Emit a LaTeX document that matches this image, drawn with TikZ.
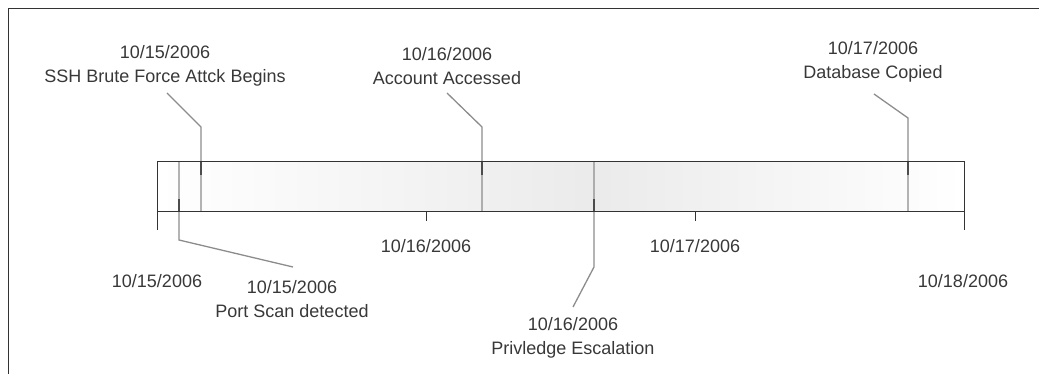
\documentclass[tikz,border=0pt]{standalone}
\usepackage{fontspec}
\setmainfont{Liberation Sans}
\begin{document}
\begin{tikzpicture}[x=1pt,y=-1pt,
  lbl/.style={font=\fontsize{18}{24}\selectfont, text=black!78, align=center, inner sep=0pt},
  leader/.style={draw=black!45, line width=1.3pt},
  darktick/.style={draw=black!70, line width=1.3pt},
  edgeline/.style={draw=black!80, line width=1pt}]
\useasboundingbox (0,0) rectangle (1039,374);
% frame
\coordinate (fbl) at (8,374);
\coordinate (ftl) at (8,9);
\coordinate (ftr) at (1039,9);
\draw[edgeline] (fbl) -- (ftl) -- (ftr);
% bar shading
\shade[left color=white, right color=black!8] (157,162) rectangle (594,212);
\shade[left color=black!8, right color=white] (594,162) rectangle (964,212);
% bar corners
\coordinate (b0) at (157,230);
\coordinate (btl) at (157,162);
\coordinate (btr) at (964,162);
\coordinate (b3) at (964,230);
\coordinate (bbl) at (157,212);
\coordinate (bbr) at (964,212);
% event leaders
\coordinate (s1) at (167,93);  \coordinate (s2) at (201,127); \coordinate (s3) at (201,212);
\coordinate (p1) at (179,162); \coordinate (p2) at (179,240); \coordinate (p3) at (293,267);
\coordinate (a1) at (447,93);  \coordinate (a2) at (482,127); \coordinate (a3) at (482,212);
\coordinate (v1) at (594,162); \coordinate (v2) at (594,267); \coordinate (v3) at (573,307);
\coordinate (d1) at (874,94);  \coordinate (d2) at (908,118); \coordinate (d3) at (908,212);
\draw[leader] (s1) -- (s2) -- (s3);
\draw[leader] (p1) -- (p2) -- (p3);
\draw[leader] (a1) -- (a2) -- (a3);
\draw[leader] (v1) -- (v2) -- (v3);
\draw[leader] (d1) -- (d2) -- (d3);
% darker tick segments at bar edge
\coordinate (st) at (201,175); \coordinate (sb) at (201,162);
\coordinate (pt) at (179,199); \coordinate (pb) at (179,212);
\coordinate (at) at (482,175); \coordinate (ab) at (482,162);
\coordinate (vt) at (594,199); \coordinate (vb) at (594,212);
\coordinate (dt) at (908,175); \coordinate (db) at (908,162);
\draw[darktick] (sb) -- (st);
\draw[darktick] (pb) -- (pt);
\draw[darktick] (ab) -- (at);
\draw[darktick] (vb) -- (vt);
\draw[darktick] (db) -- (dt);
% bar outline
\draw[edgeline] (b0) -- (btl) -- (btr) -- (b3);
\draw[edgeline] (bbl) -- (bbr);
% day ticks
\coordinate (t16a) at (426,212); \coordinate (t16b) at (426,221);
\coordinate (t17a) at (695,212); \coordinate (t17b) at (695,221);
\draw[edgeline] (t16a) -- (t16b);
\draw[edgeline] (t17a) -- (t17b);
% axis labels
\node[lbl] (x15) at (157,281) {10/15/2006};
\node[lbl] (x16) at (426,246) {10/16/2006};
\node[lbl] (x17) at (695,246) {10/17/2006};
\node[lbl] (x18) at (963,281) {10/18/2006};
% event labels
\node[lbl] (ssh) at (165,66) {10/15/2006\\SSH Brute Force Attck Begins};
\node[lbl] (port) at (292,299) {10/15/2006\\Port Scan detected};
\node[lbl] (acc) at (447,66) {10/16/2006\\Account Accessed};
\node[lbl] (priv) at (573,338) {10/16/2006\\Privledge Escalation};
\node[lbl] (db) at (873,62) {10/17/2006\\Database Copied};
\end{tikzpicture}
\end{document}
